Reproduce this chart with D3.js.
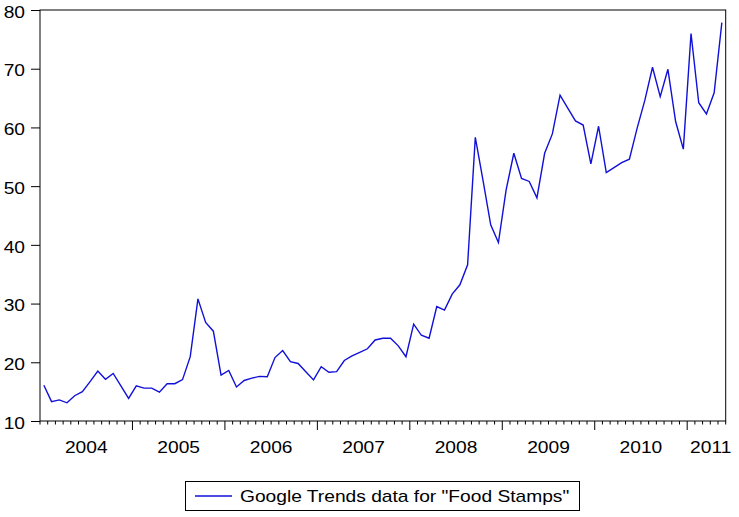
<!DOCTYPE html>
<html>
<head>
<meta charset="utf-8">
<script src="https://cdn.jsdelivr.net/npm/d3@7"></script>
<style>
  body { margin: 0; background: #fff; }
  svg text { font-family: "Liberation Sans", Arial, sans-serif; fill: #000; }
</style>
</head>
<body>
<script>
// monthly series, Jan 2004 - May 2011
var startYear = 2004;
var yearLabels = ["2004", "2005", "2006", "2007", "2008", "2009", "2010", "2011"];
var yTicks = [10, 20, 30, 40, 50, 60, 70, 80];
var seriesName = 'Google Trends data for "Food Stamps"';
var values = [
  16.1, 13.3, 13.6, 13.1, 14.3, 15.0, 16.7, 18.5, 17.1, 18.1, 16.0, 13.85,
  16.0, 15.6, 15.6, 14.9, 16.35, 16.35, 17.05, 20.95, 30.8, 26.8, 25.3, 17.8,
  18.6, 15.8, 16.9, 17.3, 17.6, 17.55, 20.8, 22.0, 20.1, 19.8, 18.4, 17.0,
  19.25, 18.3, 18.4, 20.3, 21.1, 21.7, 22.3, 23.8, 24.1, 24.1, 22.8, 20.95,
  26.5, 24.6, 24.1, 29.5, 28.9, 31.6, 33.2, 36.6, 58.3, 51.0, 43.4, 40.4,
  49.35, 55.6, 51.3, 50.8, 48.0, 55.6, 58.9, 65.5, 63.3, 61.1, 60.4, 53.8,
  60.2, 52.3, 53.15, 54.0, 54.6, 59.85, 64.6, 70.25, 65.25, 69.9, 61.0, 56.3,
  76.0, 64.2, 62.3, 65.9, 77.85
];

var width = 739, height = 517;
var plot = {left: 40, right: 725.7, top: 10, bottom: 421};
var stretch = 1.2;   // text in the source is drawn a bit wide
var fontSize = 16;

var svg = d3.select("body").append("svg")
    .attr("width", width)
    .attr("height", height);

var n = values.length;
var xScale = d3.scaleLinear().domain([0, n]).range([plot.left, plot.right]);
var yScale = d3.scaleLinear().domain([10, 80]).range([plot.bottom, plot.top]);

// frame
svg.append("rect")
    .attr("x", plot.left)
    .attr("y", plot.top)
    .attr("width", plot.right - plot.left)
    .attr("height", plot.bottom - plot.top)
    .style("fill", "none")
    .style("stroke", "#000")
    .style("stroke-width", 1);

// Y axis
var yAxis = d3.axisLeft(yScale).tickValues(yTicks).tickSize(9).tickPadding(3.5);
var gy = svg.append("g")
    .attr("transform", "translate(" + plot.left + ",0)")
    .call(yAxis);
gy.select(".domain").remove();
gy.selectAll("line").attr("stroke", "#000");
gy.selectAll("text")
    .attr("font-size", fontSize)
    .attr("dy", "0.45em")
    .attr("transform", "scale(" + stretch + ",1)");

// X axis: month ticks, longer ticks at year breaks
var monthTicks = d3.range(0, n + 1);
svg.append("g").selectAll("line")
    .data(monthTicks)
    .enter().append("line")
    .attr("x1", function(d) { return xScale(d); })
    .attr("x2", function(d) { return xScale(d); })
    .attr("y1", plot.bottom)
    .attr("y2", function(d) { return plot.bottom + (d % 12 == 0 && d > 0 && d < n ? 9 : 3.5); })
    .style("stroke", "#000")
    .style("stroke-width", 1);

svg.append("g").selectAll("text")
    .data(yearLabels)
    .enter().append("text")
    .attr("transform", function(d, i) {
        var a = i * 12, b = Math.min(a + 12, n);
        var cx = xScale((a + b) / 2);
        if (i == yearLabels.length - 1) cx = plot.right - 15;
        return "translate(" + cx + "," + (plot.bottom + 31.5) + ") scale(" + stretch + ",1)";
    })
    .attr("text-anchor", "middle")
    .attr("font-size", fontSize)
    .text(function(d) { return d; });

// series line
var line = d3.line()
    .x(function(d, i) { return xScale(i + 0.5); })
    .y(function(d) { return yScale(d); });

svg.append("path")
    .datum(values)
    .attr("d", line)
    .style("fill", "none")
    .style("stroke", "#1010d8")
    .style("stroke-width", 1.4)
    .style("stroke-linejoin", "miter");

// legend
var legend = svg.append("g");
legend.append("rect")
    .attr("x", 185.5)
    .attr("y", 481.5)
    .attr("width", 394)
    .attr("height", 29)
    .style("fill", "#fff")
    .style("stroke", "#000")
    .style("stroke-width", 1);
legend.append("line")
    .attr("x1", 195).attr("x2", 232)
    .attr("y1", 496).attr("y2", 496)
    .style("stroke", "#1010d8")
    .style("stroke-width", 1.4);
legend.append("text")
    .attr("transform", "translate(240,502) scale(" + stretch + ",1)")
    .attr("font-size", fontSize)
    .text(seriesName);
</script>
</body>
</html>
